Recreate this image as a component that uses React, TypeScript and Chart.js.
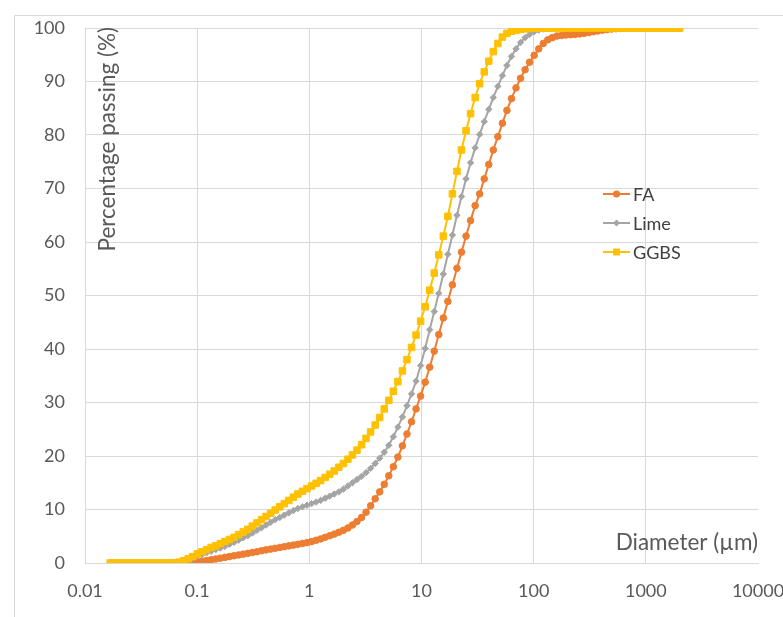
import React, { useEffect, useRef } from 'react';
import { Chart, registerables } from 'chart.js';

Chart.register(...registerables);

// Particle diameters (µm)
const diameters = [
  0.0168, 0.0184, 0.0203, 0.0223, 0.0245, 0.0269, 0.0295, 0.0325, 0.0357, 0.0392,
  0.0430, 0.0473, 0.0520, 0.0571, 0.0627, 0.0689, 0.0757, 0.0832, 0.0914, 0.1004,
  0.1103, 0.1212, 0.1332, 0.1463, 0.1607, 0.1766, 0.1940, 0.2132, 0.2342, 0.2573,
  0.2827, 0.3106, 0.3413, 0.375, 0.412, 0.452, 0.496, 0.545, 0.598, 0.657,
  0.721, 0.791, 0.869, 0.953, 1.047, 1.149, 1.261, 1.385, 1.520, 1.669,
  1.832, 2.011, 2.207, 2.423, 2.660, 2.920, 3.205, 3.519, 3.863, 4.240,
  4.655, 5.110, 5.610, 6.158, 6.760, 7.421, 8.147, 8.943, 9.817, 10.78,
  11.83, 12.99, 14.26, 15.65, 17.18, 18.86, 20.71, 22.73, 24.95, 27.39,
  30.07, 33.01, 36.24, 39.78, 43.67, 47.94, 52.62, 57.77, 63.41, 69.61,
  76.42, 83.89, 92.09, 101.1, 111.0, 121.8, 133.7, 146.8, 161.2, 176.9,
  194.2, 213.2, 234.1, 256.9, 282.1, 309.6, 339.9, 373.1, 409.6, 449.7,
  493.6, 541.9, 594.9, 653.0, 716.9, 786.9, 863.9, 948.3, 1041, 1143,
  1255, 1377, 1512, 1660, 1822, 2000,
];

// Cumulative percentage passing
const faPassing = [
  0, 0, 0, 0, 0, 0, 0, 0, 0, 0,
  0, 0, 0, 0, 0, 0, 0.02, 0.05, 0.1, 0.2,
  0.3, 0.45, 0.6, 0.75, 0.9, 1.05, 1.2, 1.35, 1.5, 1.65,
  1.8, 1.95, 2.1, 2.3, 2.45, 2.6, 2.75, 2.9, 3.05, 3.2,
  3.35, 3.5, 3.65, 3.8, 4.0, 4.25, 4.5, 4.8, 5.1, 5.4,
  5.75, 6.1, 6.55, 7.1, 7.75, 8.5, 9.5, 10.7, 12.0, 13.3,
  14.7, 16.3, 18.0, 19.8, 21.9, 24.1, 26.4, 28.8, 31.2, 33.8,
  36.6, 39.6, 42.7, 45.8, 48.9, 52.0, 55.1, 58.1, 61.1, 64.0,
  66.8, 69.0, 71.8, 74.5, 77.2, 79.7, 82.2, 84.6, 86.8, 88.8,
  90.6, 92.2, 93.6, 94.9, 96.1, 97.1, 97.8, 98.2, 98.5, 98.6,
  98.7, 98.75, 98.8, 98.9, 99.0, 99.15, 99.3, 99.45, 99.6, 99.7,
  99.8, 99.87, 99.93, 99.97, 100, 100, 100, 100, 100, 100,
  100, 100, 100, 100, 100, 100,
];

const limePassing = [
  0, 0, 0, 0, 0, 0, 0, 0, 0, 0,
  0, 0, 0, 0, 0.05, 0.15, 0.3, 0.55, 0.85, 1.2,
  1.55, 1.9, 2.2, 2.5, 2.8, 3.1, 3.5, 3.85, 4.25, 4.7,
  5.1, 5.6, 6.1, 6.6, 7.1, 7.6, 8.1, 8.5, 8.95, 9.4,
  9.8, 10.2, 10.5, 10.8, 11.1, 11.4, 11.7, 12.1, 12.5, 12.9,
  13.3, 13.8, 14.4, 15.0, 15.6, 16.2, 16.9, 17.7, 18.6, 19.6,
  20.7, 22.0, 23.6, 25.4, 27.3, 29.4, 31.6, 34.0, 36.9, 40.1,
  43.6, 47.0, 50.4, 54.0, 57.7, 61.3, 65.0, 68.5, 71.8, 74.8,
  77.6, 80.1, 82.5, 84.8, 87.0, 89.1, 91.1, 93.0, 94.7, 96.1,
  97.3, 98.2, 98.8, 99.3, 99.6, 99.8, 99.9, 99.95, 100, 100,
  100, 100, 100, 100, 100, 100, 100, 100, 100, 100,
  100, 100, 100, 100, 100, 100, 100, 100, 100, 100,
  100, 100, 100, 100, 100, 100,
];

const ggbsPassing = [
  0, 0, 0, 0, 0, 0, 0, 0, 0, 0,
  0, 0, 0, 0, 0.05, 0.15, 0.4, 0.8, 1.2, 1.7,
  2.1, 2.5, 2.9, 3.2, 3.6, 4.0, 4.4, 4.8, 5.3, 5.8,
  6.3, 6.9, 7.5, 8.1, 8.7, 9.3, 9.9, 10.5, 11.1, 11.7,
  12.3, 12.9, 13.4, 13.9, 14.4, 14.9, 15.4, 16.0, 16.6, 17.2,
  17.9, 18.6, 19.4, 20.2, 21.1, 22.1, 23.3, 24.5, 25.8, 27.2,
  28.8, 30.4, 32.1, 33.9, 35.9, 38.0, 40.3, 42.6, 45.2, 47.9,
  51.0, 54.2, 57.6, 61.1, 64.8, 69.0, 73.2, 77.2, 80.8, 84.0,
  87.0, 89.6, 91.8, 93.8, 95.6, 97.1, 98.3, 99.0, 99.4, 99.6,
  99.75, 99.85, 99.92, 99.97, 100, 100, 100, 100, 100, 100,
  100, 100, 100, 100, 100, 100, 100, 100, 100, 100,
  100, 100, 100, 100, 100, 100, 100, 100, 100, 100,
  100, 100, 100, 100, 100, 100,
];

const seriesNames = ['FA', 'Lime', 'GGBS'];
const xTickValues = [0.01, 0.1, 1, 10, 100, 1000, 10000];
const xTickLabels = ['0.01', '0.1', '1', '10', '100', '1000', '10000'];
const yTickValues = [0, 10, 20, 30, 40, 50, 60, 70, 80, 90, 100];
const xTitle = 'Diameter (µm)';
const yTitle = 'Percentage passing (%)';

const FONT = 'Lato, Carlito, "Liberation Sans", sans-serif';
const GRID = '#d9d9d9';
const TEXT = '#595959';

function drawMarker(ctx: CanvasRenderingContext2D, style: string, x: number, y: number, r: number) {
  ctx.beginPath();
  if (style === 'circle') {
    ctx.arc(x, y, r, 0, Math.PI * 2);
  } else if (style === 'rect') {
    const s = r * Math.SQRT1_2;
    ctx.rect(x - s, y - s, 2 * s, 2 * s);
  } else {
    ctx.moveTo(x, y - r);
    ctx.lineTo(x + r, y);
    ctx.lineTo(x, y + r);
    ctx.lineTo(x - r, y);
    ctx.closePath();
  }
  ctx.fill();
}

const decorPlugin = {
  id: 'decor',
  beforeDraw(chart: any) {
    const ctx = chart.ctx as CanvasRenderingContext2D;
    ctx.save();
    ctx.strokeStyle = GRID;
    ctx.lineWidth = 1;
    ctx.beginPath();
    ctx.moveTo(14.5, chart.height + 5);
    ctx.lineTo(14.5, 15.5);
    ctx.lineTo(chart.width + 5, 15.5);
    ctx.stroke();
    ctx.restore();
  },
  afterDraw(chart: any) {
    const ctx = chart.ctx as CanvasRenderingContext2D;
    const area = chart.chartArea;
    ctx.save();
    // Axis titles
    ctx.fillStyle = TEXT;
    ctx.font = `22.5px ${FONT}`;
    ctx.textAlign = 'right';
    ctx.textBaseline = 'alphabetic';
    ctx.fillText(xTitle, area.right, area.bottom - 13);
    ctx.save();
    ctx.translate(area.left + 30, area.top - 1);
    ctx.rotate(-Math.PI / 2);
    ctx.textAlign = 'right';
    ctx.fillText(yTitle, 0, 0);
    ctx.restore();

    // Legend
    const lx = 603;
    const ly = 194;
    const gap = 29;
    chart.data.datasets.forEach((ds: any, i: number) => {
      const y = ly + i * gap;
      ctx.strokeStyle = ds.borderColor;
      ctx.lineWidth = 2;
      ctx.beginPath();
      ctx.moveTo(lx, y);
      ctx.lineTo(lx + 27, y);
      ctx.stroke();
      ctx.fillStyle = ds.backgroundColor;
      drawMarker(ctx, ds.pointStyle, lx + 13.5, y, ds.pointRadius + 0.3);
      ctx.fillStyle = '#404040';
      ctx.font = `18px ${FONT}`;
      ctx.textAlign = 'left';
      ctx.textBaseline = 'middle';
      ctx.fillText(seriesNames[i], lx + 30, y + 1);
    });
    ctx.restore();
  },
};

export default function App() {
  const canvasRef = useRef<HTMLCanvasElement | null>(null);

  useEffect(() => {
    if (!canvasRef.current) return;
    const mk = (vals: number[]) => diameters.map((d, i) => ({ x: d, y: vals[i] }));
    const chart = new Chart(canvasRef.current, {
      type: 'line',
      data: {
        datasets: [
          {
            label: seriesNames[0],
            data: mk(faPassing),
            borderColor: '#ED7D31',
            backgroundColor: '#ED7D31',
            pointStyle: 'circle',
            pointRadius: 3.3,
            pointBorderWidth: 1,
            borderWidth: 2,
            order: 2,
          },
          {
            label: seriesNames[1],
            data: mk(limePassing),
            borderColor: '#A5A5A5',
            backgroundColor: '#A5A5A5',
            pointStyle: 'rectRot',
            pointRadius: 3.2,
            pointBorderWidth: 1,
            borderWidth: 2,
            order: 1,
          },
          {
            label: seriesNames[2],
            data: mk(ggbsPassing),
            borderColor: '#FFC000',
            backgroundColor: '#FFC000',
            pointStyle: 'rect',
            pointRadius: 4.6,
            pointBorderWidth: 1,
            borderWidth: 2,
            order: 0,
          },
        ],
      },
      options: {
        responsive: false,
        animation: false,
        layout: { padding: { left: 0, top: 28, right: 25, bottom: 0 } },
        plugins: { legend: { display: false }, tooltip: { enabled: false } },
        scales: {
          x: {
            type: 'logarithmic',
            min: 0.01,
            max: 10000,
            afterBuildTicks: (s: any) => {
              s.ticks = xTickValues.map((v) => ({ value: v }));
            },
            afterFit: (s: any) => {
              s.height = 54;
              s.paddingLeft = 0;
              s.paddingRight = 0;
            },
            ticks: {
              autoSkip: false,
              maxRotation: 0,
              minRotation: 0,
              padding: 17,
              color: TEXT,
              font: { family: FONT, size: 18 },
              callback: (_v: any, i: number) => xTickLabels[i],
            },
            grid: {
              drawTicks: false,
              color: (c: any) => (c.tick && c.tick.value === 10000 ? 'rgba(0,0,0,0)' : GRID),
            },
            border: { color: GRID },
          },
          y: {
            min: 0,
            max: 100,
            afterBuildTicks: (s: any) => {
              s.ticks = yTickValues.map((v) => ({ value: v }));
            },
            afterFit: (s: any) => {
              s.width = 85;
              s.paddingTop = 0;
              s.paddingBottom = 0;
            },
            ticks: {
              padding: 20,
              color: TEXT,
              font: { family: FONT, size: 18 },
              callback: (v: any) => String(v),
            },
            grid: { drawTicks: false, color: GRID },
            border: { color: GRID },
          },
        },
      },
      plugins: [decorPlugin],
    } as any);
    return () => chart.destroy();
  }, []);

  return (
    <div style={{ position: 'fixed', left: 0, top: 0, width: 783, height: 617, background: '#fff' }}>
      <canvas ref={canvasRef} width={783} height={617} style={{ display: 'block' }} />
    </div>
  );
}
